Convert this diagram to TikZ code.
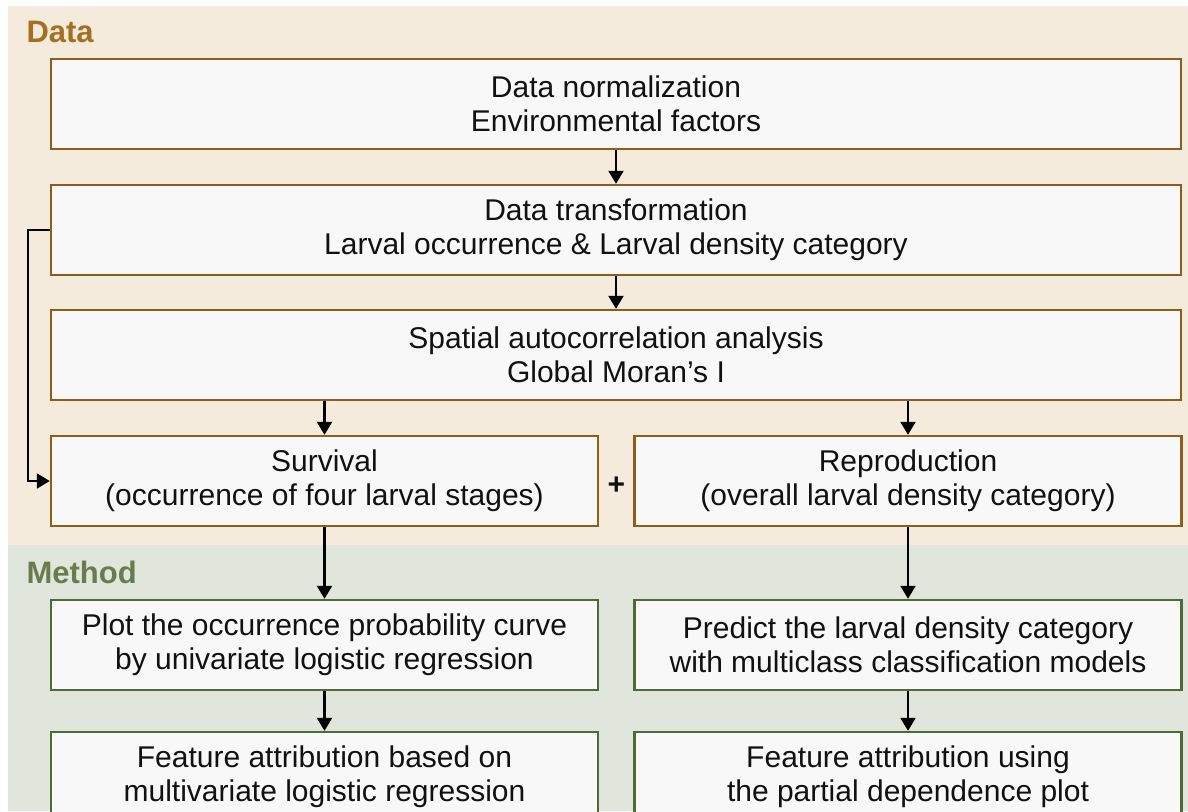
\documentclass[tikz,border=0pt]{standalone}
\usepackage{fontspec}
\setmainfont{Liberation Sans}
\usetikzlibrary{arrows.meta}
\definecolor{databg}{HTML}{F5EBDC}
\definecolor{methbg}{HTML}{E1E6DC}
\definecolor{dataline}{HTML}{8E5D17}
\definecolor{methline}{HTML}{4E6A37}
\definecolor{datalabel}{HTML}{A46F1F}
\definecolor{methlabel}{HTML}{697D4C}
\definecolor{boxfill}{HTML}{F8F8F8}
\definecolor{txt}{HTML}{111111}
\begin{document}
\begin{tikzpicture}[x=1pt,y=-1pt,
 box/.style={draw, line width=2.4pt, fill=boxfill, inner sep=0pt, align=center, text=txt, font=\fontsize{30}{34}\selectfont},
 databox/.style={box, draw=dataline},
 methbox/.style={box, draw=methline},
 wide/.style={minimum width=1130pt, minimum height=90pt},
 half/.style={minimum width=547pt, minimum height=90pt},
 arr/.style={-{Triangle[length=13pt,width=15pt]}, line width=2.2pt, black},
 lbl/.style={font=\fontsize{31}{31}\selectfont\bfseries, anchor=base west}
]
\path[use as bounding box, clip] (0,0) rectangle (1188,811);
\fill[white] (0,0) rectangle (1188,811);
\fill[databg] (8,6) rectangle (1188,545);
\fill[methbg] (8,545) rectangle (1188,811);
\node[lbl, text=datalabel] (datalbl) at (23,42) {Data};
\node[lbl, text=methlabel] (methlbl) at (23,583) {Method};

\node[databox, wide] (norm) at (616,104) {Data normalization\\Environmental factors};
\node[databox, wide] (trans) at (616,230) {Data transformation\\Larval occurrence \& Larval density category};
\node[databox, wide] (spat) at (616,355) {Spatial autocorrelation analysis\\Global Moran's I};
\node[databox, half] (surv) at (324.5,481) {Survival\\(occurrence of four larval stages)};
\node[databox, half] (repr) at (908,481) {Reproduction\\(overall larval density category)};
\node[font=\fontsize{30}{30}\selectfont\bfseries, text=txt] (plus) at (616.5,486) {+};

\node[methbox, half] (plot) at (324.5,645) {Plot the occurrence probability curve\\by univariate logistic regression};
\node[methbox, half] (pred) at (908,645) {Predict the larval density category\\with multiclass classification models};
\node[methbox, half] (featl) at (324.5,777) {Feature attribution based on\\multivariate logistic regression};
\node[methbox, half] (featr) at (908,777) {Feature attribution using\\the partial dependence plot};

\draw[arr] (norm.south) -- (trans.north);
\draw[arr] (trans.south) -- (spat.north);
\draw[arr] (surv.north |- spat.south) -- (surv.north);
\draw[arr] (repr.north |- spat.south) -- (repr.north);
\draw[arr] (trans.west) -- ++(-22,0) |- (surv.west);
\draw[arr] (surv.south) -- (plot.north);
\draw[arr] (repr.south) -- (pred.north);
\draw[arr] (plot.south) -- (featl.north);
\draw[arr] (pred.south) -- (featr.north);
\end{tikzpicture}
\end{document}
